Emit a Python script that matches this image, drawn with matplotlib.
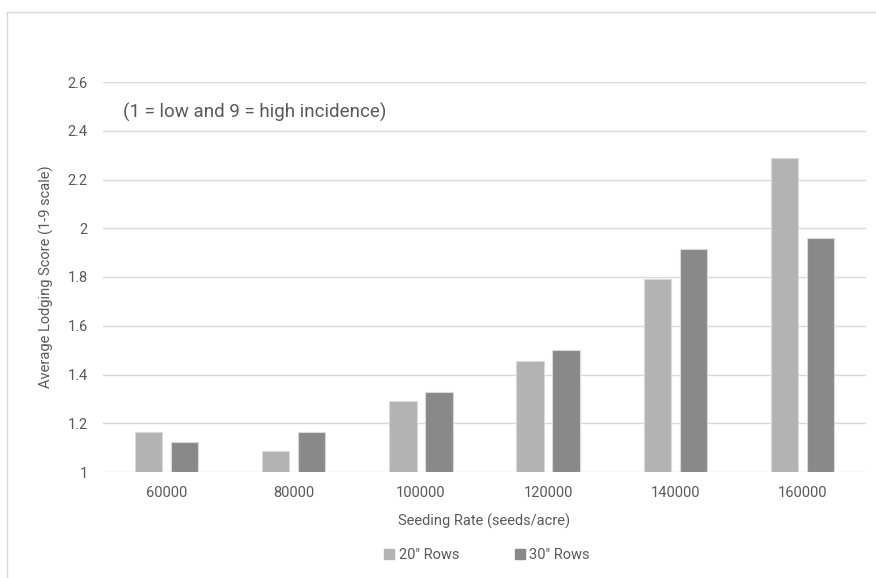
import numpy as np
import matplotlib.pyplot as plt
from matplotlib.patches import Patch

rates = ['60000', '80000', '100000', '120000', '140000', '160000']
rows20 = [1.165, 1.085, 1.29, 1.455, 1.79, 2.29]
rows30 = [1.125, 1.165, 1.33, 1.50, 1.915, 1.96]
yticks = [1, 1.2, 1.4, 1.6, 1.8, 2, 2.2, 2.4, 2.6]
ytick_labels = ['1', '1.2', '1.4', '1.6', '1.8', '2', '2.2', '2.4', '2.6']

plt.rcParams['font.family'] = ['Roboto', 'DejaVu Sans']
txt = '#595959'
c20 = '#b3b3b3'
c30 = '#898989'

fig = plt.figure(figsize=(8.76, 5.78), dpi=100)
ax = fig.add_axes([103/876, 1 - 472/578, 763/876, 390/578])

x = np.arange(len(rates))
w = 0.215
off = 0.142
ax.bar(x - off, [v - 1 for v in rows20], w, bottom=1, color=c20,
       edgecolor='#d9d9d9', linewidth=0.8, zorder=3)
ax.bar(x + off, [v - 1 for v in rows30], w, bottom=1, color=c30,
       edgecolor='#d9d9d9', linewidth=0.8, zorder=3)

ax.set_xlim(-0.5, len(rates) - 0.5)
ax.set_ylim(1, 2.6)
ax.set_yticks(yticks)
ax.set_yticklabels(ytick_labels)
ax.set_xticks(x)
ax.set_xticklabels(rates)
ax.tick_params(length=0, colors=txt, labelsize=10.5)
ax.tick_params(axis='y', pad=11)
ax.tick_params(axis='x', pad=10)
ax.yaxis.grid(True, color='#d9d9d9', linewidth=1, zorder=0)
for s in ax.spines.values():
    s.set_visible(False)

ax.set_xlabel('Seeding Rate (seeds/acre)', color=txt, fontsize=10.5, labelpad=10)
ax.set_ylabel('Average Lodging Score (1-9 scale)', color=txt, fontsize=10.5, labelpad=10)
ax.text(123, 578 - 112, '(1 = low and 9 = high incidence)', transform=None,
        color=txt, fontsize=13.5, va='center')

handles = [Patch(color=c20, label='20" Rows'), Patch(color=c30, label='30" Rows')]
fig.legend(handles=handles, loc='center', bbox_to_anchor=(487/876, 1 - 555/578),
           ncol=2, frameon=False, fontsize=10.5, labelcolor=txt,
           handlelength=0.7, handleheight=0.7, handletextpad=0.3, columnspacing=3.8)

# chart border (top and left visible)
fig.add_artist(plt.Line2D([7/876, 7/876], [0, 1 - 12/578], color='#d9d9d9',
                          linewidth=1, transform=fig.transFigure))
fig.add_artist(plt.Line2D([7/876, 1], [1 - 12/578, 1 - 12/578], color='#d9d9d9',
                          linewidth=1, transform=fig.transFigure))

fig.savefig('out.png', dpi=100)
